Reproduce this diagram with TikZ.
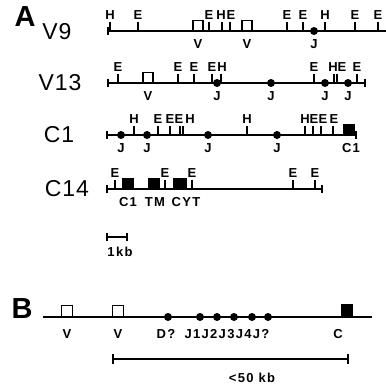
\documentclass[tikz,border=0pt]{standalone}
\usepackage{fontspec}
\setmainfont{Liberation Sans}
\usetikzlibrary{positioning}

\begin{document}
\begin{tikzpicture}[x=1pt, y=-1pt, line width=1.5pt,
  site/.style={font=\bfseries\fontsize{13}{13}\selectfont\addfontfeature{LetterSpace=10}, inner sep=0pt},
  seg/.style={font=\bfseries\fontsize{13}{13}\selectfont\addfontfeature{LetterSpace=10}, inner sep=0pt},
  clone/.style={font=\fontsize{23}{23}\selectfont\addfontfeature{LetterSpace=4}, inner sep=0pt},
  panel/.style={font=\bfseries\fontsize{29}{29}\selectfont, inner sep=0pt},
  vgene/.style={draw, fill=white, line width=1.2pt, minimum width=10pt, minimum height=10pt, inner sep=0pt, anchor=south},
  cgene/.style={vgene, fill=black},
  jgene/.style={circle, fill=black, minimum size=8pt, inner sep=0pt}]
\useasboundingbox (0,0) rectangle (386,389);

% panel A
\node[panel] (A) at (25,17) {A};

% V9
\node[clone] (V9) at (57,32) {V9};
\coordinate (v9L) at (108,31);
\coordinate (v9R) at (386,31);
\draw (v9L) -- (v9R);
\draw (v9L) ++(0,-4) -- ++(0,8);
\foreach \x/\s/\t in {110/0/H,138/0/E,209/0/E,222/-1/H,230/1/E,287/0/E,303/0/E,325/0/H,355/0/E,378/0/E}
  \draw (\x,31) -- ++(0,-9) node[site, above=2pt, xshift=\s pt] {\t};
\node[vgene] (v9a) at (198,31) {};
\node[vgene] (v9b) at (247,31) {};
\node[jgene] (v9j) at (314,31) {};
\node[seg] (v9al) at (198,44) {V};
\node[seg] (v9bl) at (247,44) {V};
\node[seg] (v9jl) at (314,44) {J};

% V13
\node[clone] (V13) at (60,83) {V13};
\coordinate (v13L) at (108,83);
\coordinate (v13R) at (365,83);
\draw (v13L) -- (v13R);
\draw (v13L) ++(0,-4) -- ++(0,8);
\draw (v13R) ++(0,-4) -- ++(0,8);
\foreach \x/\s/\t in {118/0/E,178/0/E,194/0/E,212/0/E,221/1/H,314/0/E,334/-1/H,337/5/E,357/0/E}
  \draw (\x,83) -- ++(0,-9) node[site, above=2pt, xshift=\s pt] {\t};
\node[vgene] (v13v) at (148,83) {};
\foreach \x [count=\i] in {217,271,325,348} {
  \node[jgene] (v13j\i) at (\x,83) {};
  \node[seg] (v13jl\i) at (\x,96) {J};
}
\node[seg] (v13vl) at (148,96) {V};

% C1
\node[clone] (C1) at (59,135) {C1};
\coordinate (c1L) at (107,135);
\coordinate (c1R) at (356,135);
\draw (c1L) -- (c1R);
\draw (c1L) ++(0,-4) -- ++(0,8);
\draw (c1R) ++(0,-4) -- ++(0,8);
\foreach \x/\s/\t in {134/0/H,158/0/E,170/0/E,180/-1/E,183/7/H,247/0/H,305/0/H,313/1/E,321/2/E,333/1/E}
  \draw (\x,135) -- ++(0,-9) node[site, above=2pt, xshift=\s pt] {\t};
\foreach \x [count=\i] in {121,147,208,277} {
  \node[jgene] (c1j\i) at (\x,135) {};
  \node[seg] (c1jl\i) at (\x,148) {J};
}
\node[cgene] (c1c) at (349,135) {};
\node[seg] (c1cl) at (351,148) {C1};

% C14
\node[clone] (C14) at (67,189) {C14};
\coordinate (c14L) at (107,189);
\coordinate (c14R) at (322,189);
\draw (c14L) -- (c14R);
\draw (c14L) ++(0,-4) -- ++(0,8);
\draw (c14R) ++(0,-4) -- ++(0,8);
\foreach \x/\t in {115/E,165/E,192/E,293/E,315/E}
  \draw (\x,189) -- ++(0,-9) node[site, above=2pt] {\t};
\node[cgene] (c14a) at (128,189) {};
\node[cgene, minimum width=11pt] (c14b) at (154,189) {};
\node[cgene, minimum width=13pt] (c14c) at (180,189) {};
\node[seg] (c14al) at (128,202) {C1};
\node[seg] (c14bl) at (155,202) {TM};
\node[seg] (c14cl) at (186,202) {CYT};

% scale 1kb
\coordinate (kbL) at (107,237);
\coordinate (kbR) at (127,237);
\draw (kbL) -- (kbR);
\draw (kbL) ++(0,-4) -- ++(0,8);
\draw (kbR) ++(0,-4) -- ++(0,8);
\node[seg] (kb) at (120,252) {1kb};

% panel B
\node[panel] (B) at (22,309) {B};
\coordinate (bL) at (43,317);
\coordinate (bR) at (372,317);
\draw (bL) -- (bR);
\node[vgene, minimum width=11pt, minimum height=11pt] (bv1) at (67,317) {};
\node[vgene, minimum width=11pt, minimum height=11pt] (bv2) at (118,317) {};
\node[jgene] (bd) at (168,317) {};
\foreach \x [count=\i] in {200,217,234,252,268}
  \node[jgene] (bj\i) at (\x,317) {};
\node[cgene, minimum height=12pt] (bc) at (347,317) {};
\node[seg] (bv1l) at (67,334) {V};
\node[seg] (bv2l) at (118,334) {V};
\node[seg] (bdl) at (166,334) {D?};
\node[seg] (bjl) at (227,334) {J1J2J3J4J?};
\node[seg] (bcl) at (338,334) {C};

% scale 50 kb
\coordinate (sL) at (113,359);
\coordinate (sR) at (348,359);
\draw (sL) -- (sR);
\draw (sL) ++(0,-5) -- ++(0,10);
\draw (sR) ++(0,-5) -- ++(0,10);
\node[seg] (s) at (252,378) {<50 kb};
\end{tikzpicture}
\end{document}
